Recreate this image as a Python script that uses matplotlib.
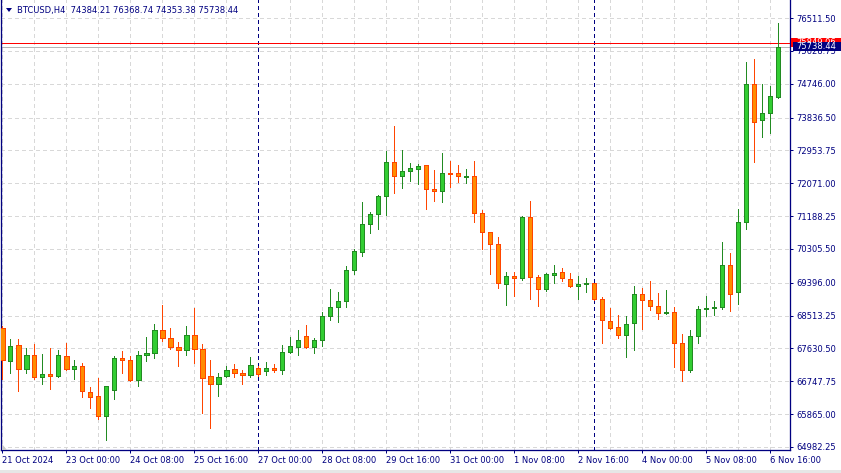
import numpy as np
import matplotlib
matplotlib.use('Agg')
import matplotlib.pyplot as plt
from matplotlib.patches import Rectangle, Polygon
from matplotlib.transforms import IdentityTransform

# BTCUSD H4 bars, 21 Oct 16:00 .. 6 Nov 20:00
opens = [68171, 67285, 67715, 67087, 67446, 66872, 66935, 66899, 67419, 67087,
         67150, 66452, 66345, 65807, 66506, 67366, 67311, 66792, 67446, 67500,
         68118, 67903, 67661, 67581, 67983, 67608, 66881, 66667, 66881, 67070,
         66962, 66908, 67096, 67016, 67096, 67061, 67543, 67679, 67956, 67661,
         67849, 68495, 68737, 68898, 69731, 70215, 70967, 71236, 71720, 72634,
         72257, 72392, 72445, 72553, 71908, 71854, 72338, 72338, 72230, 72257,
         71263, 70752, 70430, 69355, 69570, 69516, 71156, 69543, 69221, 69613,
         69677, 69489, 69301, 69355, 69382, 68952, 68361, 68199, 67983, 68307,
         69086, 68925, 68764, 68576, 68602, 67769, 67043, 67956, 68683, 68710,
         68737, 69865, 69140, 71037, 74730, 73762, 73951, 74384.21]
highs = [68234, 67885, 67885, 67635, 67750, 67482, 67635, 67589, 67769, 67320,
         67231, 66587, 66829, 66630, 67419, 67562, 67428, 67562, 67939, 68288,
         68799, 68180, 67804, 68234, 68718, 67750, 67320, 66962, 67150, 67213,
         67043, 67392, 67150, 67267, 67213, 67724, 67930, 68127, 68261, 67912,
         68610, 69229, 69148, 69847, 70295, 71567, 71298, 71763, 72937, 73609,
         72964, 72615, 72580, 72570, 72427, 72884, 72669, 72561, 72445, 72669,
         71352, 70770, 70618, 69677, 69677, 71182, 71586, 69597, 69650, 69874,
         69785, 69650, 69570, 69516, 69400, 69006, 68718, 68522, 68495, 69301,
         69247, 69436, 69113, 69194, 68737, 68011, 68118, 68764, 69032, 68898,
         70492, 70188, 71371, 75321, 75402, 74738, 74676, 76368.74]
lows = [66819, 66980, 66495, 66980, 66819, 66684, 66549, 66872, 67061, 66819,
        66334, 66039, 65727, 65179, 66280, 66980, 66765, 66630, 67285, 67382,
        67822, 67608, 67168, 67446, 67249, 65896, 65501, 66361, 66855, 66872,
        66667, 66872, 66881, 66908, 67007, 66944, 67517, 67455, 67650, 67517,
        67706, 68395, 68350, 68753, 69640, 70115, 70742, 70849, 71225, 71817,
        71951, 72123, 72058, 71387, 71602, 71575, 71978, 72112, 72085, 71037,
        70312, 69640, 69264, 68807, 69049, 69479, 68968, 68780, 69183, 69398,
        69452, 69290, 68968, 69156, 68930, 67785, 68146, 67903, 67409, 67597,
        68162, 68656, 68414, 68549, 67140, 66765, 66990, 67769, 68495, 68522,
        68683, 68629, 68817, 70841, 72642, 73314, 73429, 74353.38]
closes = [67311, 67688, 67087, 67446, 66872, 66935, 66899, 67446, 67087, 67150,
          66479, 66334, 65807, 66614, 67366, 67311, 66792, 67446, 67500, 68118,
          67903, 67661, 67581, 67983, 67608, 66846, 66667, 66855, 67043, 66962,
          66908, 67177, 66935, 67096, 67061, 67543, 67688, 67858, 67661, 67858,
          68495, 68737, 68898, 69731, 70242, 70967, 71236, 71720, 72634, 72257,
          72392, 72472, 72526, 71908, 71854, 72338, 72311, 72257, 72257, 71263,
          70752, 70430, 69382, 69570, 69516, 71156, 69543, 69221, 69624, 69650,
          69516, 69301, 69355, 69382, 68952, 68387, 68171, 67983, 68280, 69086,
          68925, 68764, 68576, 68602, 67769, 67043, 67956, 68683, 68710, 68737,
          69865, 69086, 71021, 74730, 73725, 73951, 74407, 75738.44]

ask = 75849.06
bid = closes[-1]

# x labels every 8 bars, first one carries the year
xtick_bars = [0, 8, 16, 24, 32, 40, 48, 56, 64, 72, 80, 88, 96]
xtick_labels = ['21 Oct 2024', '23 Oct 00:00', '24 Oct 08:00', '25 Oct 16:00',
                '27 Oct 00:00', '28 Oct 08:00', '29 Oct 16:00', '31 Oct 00:00',
                '1 Nov 08:00', '2 Nov 16:00', '4 Nov 00:00', '5 Nov 08:00',
                '6 Nov 16:00']
ytick_labels = ['64982.25', '65865.00', '66747.75', '67630.50', '68513.25',
                '69396.00', '70305.50', '71188.25', '72071.00', '72953.75',
                '73836.50', '74746.00', '75628.75', '76511.50']
week_start_bars = [32, 74]   # Sunday 00:00 separators

navy = '#000080'
bull_fill, bull_edge = '#32CD32', '#228B22'
bear_fill, bear_edge = '#FF8C00', '#FF4500'
px = 0.72  # one pixel in points at dpi 100

plt.rcParams['font.family'] = ['DejaVu Sans']

W, H = 841, 473
fig = plt.figure(figsize=(W / 100, H / 100), dpi=100)
fig.patch.set_facecolor('white')
ax = fig.add_axes([1 / W, 23 / H, 789 / W, 450 / H])

n = len(opens)
ax.set_xlim(-0.1625, -0.1625 + 789 / 8)
ax.set_ylim(64901.6, 76995.4)

# grid
ax.set_xticks(xtick_bars, xtick_labels)
ax.set_xticks(range(0, n, 4), minor=True)
yt = [float(s) for s in ytick_labels]
ax.set_yticks(yt, ytick_labels)
ax.grid(which='both', color='#D8D8D8', linewidth=px, linestyle=(0, (3, 3)), antialiased=False)
ax.set_axisbelow(True)

for b in week_start_bars:
    ax.axvline(b, color=navy, linewidth=px, linestyle=(0, (3, 3)), zorder=1.5, antialiased=False)

ax.axhline(ask, color='#FF0000', linewidth=px, zorder=1.6, antialiased=False)
ax.axhline(bid, color='#B4B4B4', linewidth=px, zorder=1.6, antialiased=False)

# candles
bw = 0.55
for i in range(n):
    o, h, l, c = opens[i], highs[i], lows[i], closes[i]
    up = c >= o
    ec = bull_edge if up else bear_edge
    fc = bull_fill if up else bear_fill
    ax.vlines(i, l, h, color=ec, linewidth=px, zorder=3, antialiased=False)
    ax.add_patch(Rectangle((i - bw / 2, min(o, c)), bw, abs(c - o),
                           facecolor=fc, edgecolor=ec, linewidth=px,
                           zorder=4, antialiased=False))

# axes look
for s in ['left', 'right', 'bottom']:
    ax.spines[s].set_color(navy)
    ax.spines[s].set_linewidth(px * 1.3)
ax.spines['top'].set_visible(False)
ax.yaxis.tick_right()
ax.tick_params(axis='both', which='major', colors=navy, labelcolor=navy,
               labelsize=6, length=2.2, width=px, direction='out', pad=2.2)
ax.tick_params(axis='both', which='minor', length=0)
for lbl in ax.get_xticklabels():
    lbl.set_horizontalalignment('left')
ax.tick_params(axis='x', pad=2)

# price tags on the right
ytr = ax.get_yaxis_transform()
tag_h = 9 * (76995.4 - 64901.6) / 450
ax.add_patch(Rectangle((1.0 + 1 / 789, ask - tag_h / 2), 50 / 789, tag_h, transform=ytr,
                       facecolor='#FF0000', edgecolor='none', clip_on=False, zorder=10))
ax.text(1.0 + 6 / 789, ask, f'{ask:.2f}', transform=ytr, color='white', fontsize=6,
        va='center', ha='left', clip_on=False, zorder=10.5)
ax.add_patch(Rectangle((1.0 + 3 / 789, bid - tag_h / 2), 48 / 789, tag_h, transform=ytr,
                       facecolor=navy, edgecolor='none', clip_on=False, zorder=11))
ax.text(1.0 + 6 / 789, bid, f'{bid:.2f}', transform=ytr, color='white', fontsize=6,
        va='center', ha='left', clip_on=False, zorder=11.5)

# header
fig.text(17 / W, 1 - 10 / H, 'BTCUSD,H4  %.2f %.2f %.2f %.2f' % (opens[-1], highs[-1], lows[-1], closes[-1]),
         color=navy, fontsize=6, va='center', ha='left')
fig.add_artist(Polygon([(6, H - 8), (12, H - 8), (9, H - 12)], closed=True,
                       facecolor=navy, edgecolor='none', transform=IdentityTransform()))
# chart shift marker and bottom strip
fig.add_artist(Polygon([(2, H - 450), (7, H - 450), (2, H - 444)], closed=True,
                       facecolor='#C8C8C8', edgecolor='none', transform=IdentityTransform()))
fig.add_artist(Rectangle((0, 0), W, 3, facecolor='#E6E6E6', edgecolor='none',
                         transform=IdentityTransform()))

fig.savefig('out.png', dpi=100)
